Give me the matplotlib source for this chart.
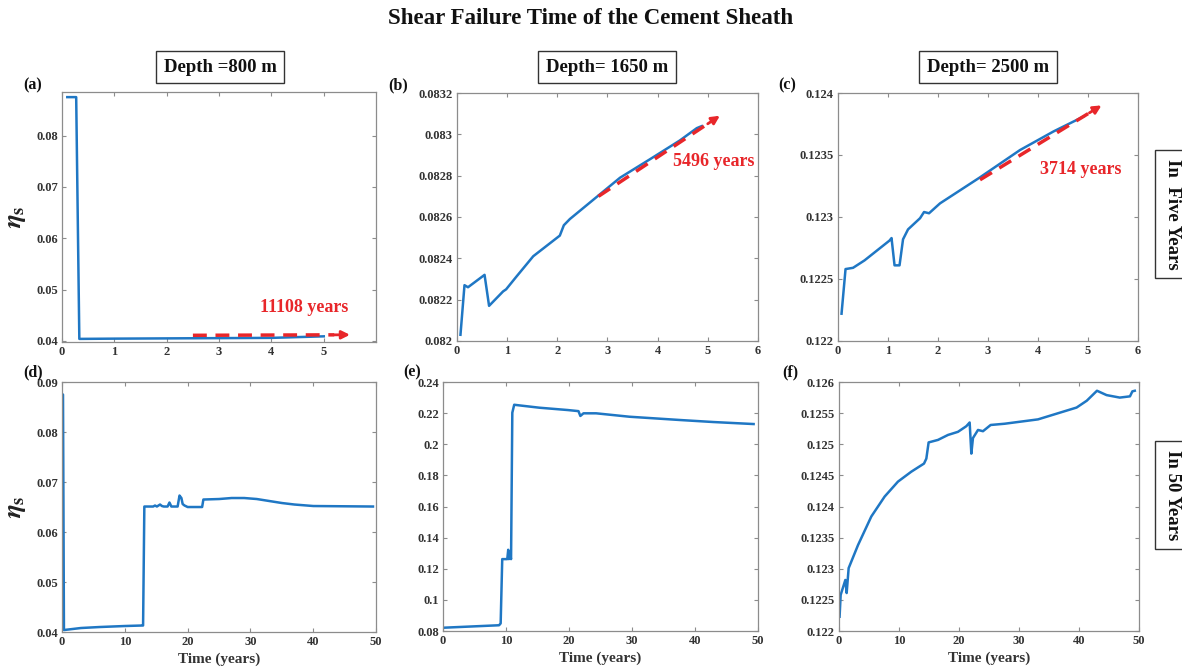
import matplotlib
matplotlib.use("Agg")
import matplotlib.pyplot as plt

# ---------------- data ----------------
a_t = [0.1, 0.27, 0.33, 1.0, 2.0, 3.0, 4.0, 5.0]
a_eta = [0.0875, 0.0875, 0.0404, 0.04045, 0.0405, 0.04055, 0.0406, 0.0409]

b_t = [0.07, 0.15, 0.22, 0.55, 0.64, 0.92, 0.98, 1.18, 1.52, 2.05, 2.13, 2.25,
       2.85, 3.25, 3.85, 4.44, 4.78, 4.88]
b_eta = [0.08203, 0.08227, 0.08226, 0.08232, 0.08217, 0.08224, 0.08225, 0.08231,
         0.08241, 0.08251, 0.08256, 0.08259, 0.08271, 0.08279, 0.08288, 0.08297,
         0.08303, 0.08304]

c_t = [0.07, 0.15, 0.3, 0.53, 1.03, 1.07, 1.13, 1.23, 1.3, 1.4, 1.64, 1.72, 1.82,
       2.04, 2.84, 3.64, 4.31, 4.91]
c_eta = [0.12222, 0.12258, 0.12259, 0.12265, 0.12281, 0.12283, 0.12261, 0.12261,
         0.12282, 0.1229, 0.12299, 0.12304, 0.12303, 0.12311, 0.12332, 0.12354,
         0.12369, 0.12381]

d_t = [0.05, 0.15, 0.3, 1.0, 3.0, 6.0, 10.0, 12.7, 12.9, 13.1, 14.5, 14.8, 15.1,
       15.6, 15.9, 16.2, 16.8, 17.1, 17.4, 18.4, 18.7, 19.0, 19.2, 19.5, 20.0,
       22.3, 22.5, 25.0, 27.0, 29.0, 31.0, 33.0, 35.0, 37.0, 40.0, 49.5]
d_eta = [0.0875, 0.0875, 0.0404, 0.0405, 0.0408, 0.0410, 0.0412, 0.0413, 0.0413,
         0.0651, 0.0651, 0.0653, 0.0651, 0.0655, 0.0652, 0.0651, 0.0651, 0.0659,
         0.0651, 0.0651, 0.0673, 0.0668, 0.0656, 0.0653, 0.065, 0.065, 0.0665,
         0.0666, 0.0668, 0.0668, 0.0666, 0.0662, 0.0658, 0.0655, 0.0652, 0.0651]

e_t = [0.0, 8.9, 9.15, 9.4, 10.2, 10.35, 10.45, 10.6, 10.8, 11.0, 11.3, 12.1, 15.3,
       19.8, 21.5, 21.8, 22.3, 24.3, 29.6, 37.6, 42.9, 49.3]
e_eta = [0.0821, 0.0837, 0.0849, 0.1262, 0.1262, 0.1322, 0.1262, 0.1300, 0.1262,
         0.2203, 0.2254, 0.225, 0.2235, 0.222, 0.2213, 0.2182, 0.2199, 0.2199,
         0.2177, 0.2156, 0.2143, 0.213]

f_t = [0.1, 0.28, 1.06, 1.28, 1.61, 3.17, 5.39, 7.61, 9.83, 12.06, 14.17, 14.56,
       14.94, 16.5, 18.17, 19.83, 21.22, 21.78, 22.06, 22.33, 23.17, 24.0, 25.28,
       27.61, 33.17, 39.6, 41.3, 43.0, 44.6, 46.8, 48.5, 48.9, 49.3]
f_eta = [0.12223, 0.12258, 0.12282, 0.12261, 0.12301, 0.12338, 0.12384, 0.12416,
         0.1244, 0.12456, 0.12469, 0.12477, 0.12503, 0.12507, 0.12515, 0.1252,
         0.12529, 0.12535, 0.12485, 0.1251, 0.12523, 0.12521, 0.12531, 0.12533,
         0.1254, 0.12559, 0.1257, 0.12586, 0.12579, 0.12575, 0.12577, 0.12585,
         0.12586]

# extrapolation arrows (start, end) and labels
arrow_a = ([2.5, 5.5], [0.0411, 0.0412])
arrow_b = ([2.82, 5.24], [0.0827, 0.08309])
arrow_c = ([2.84, 5.27], [0.1233, 0.1239])
label_a = "11108 years"
label_b = "5496 years"
label_c = "3714 years"

depth_titles = ["Depth =800 m", "Depth= 1650 m", "Depth= 2500 m"]
row_titles = ["In  Five Years", "In 50 Years"]
panel_letters = ["(a)", "(b)", "(c)", "(d)", "(e)", "(f)"]

# ---------------- styling ----------------
plt.rcParams['font.family'] = ['Liberation Serif', 'DejaVu Serif']
plt.rcParams['mathtext.fontset'] = 'stix'
BLUE = '#1f77c4'
RED = '#e8262a'
GRAY = '#8c8c8c'
TXT = '#333333'

fig = plt.figure(figsize=(11.82, 6.72), dpi=100)

positions = [
    [0.0525, 0.4911, 0.2657, 0.372],
    [0.3866, 0.4926, 0.2547, 0.369],
    [0.7090, 0.4926, 0.2538, 0.369],
    [0.0525, 0.0595, 0.2657, 0.372],
    [0.3748, 0.0610, 0.2665, 0.3705],
    [0.7098, 0.0610, 0.2538, 0.3705],
]

datasets = [(a_t, a_eta), (b_t, b_eta), (c_t, c_eta),
            (d_t, d_eta), (e_t, e_eta), (f_t, f_eta)]
xlims = [(0, 6), (0, 6), (0, 6), (0, 50), (0, 50), (0, 50)]
ylims = [(0.0398, 0.0885), (0.082, 0.0832), (0.122, 0.124),
         (0.04, 0.09), (0.08, 0.24), (0.122, 0.126)]
xticks = [[0, 1, 2, 3, 4, 5], [0, 1, 2, 3, 4, 5, 6], [0, 1, 2, 3, 4, 5, 6],
          [0, 10, 20, 30, 40, 50], [0, 10, 20, 30, 40, 50], [0, 10, 20, 30, 40, 50]]
yticks = [[0.04, 0.05, 0.06, 0.07, 0.08],
          [0.082, 0.0822, 0.0824, 0.0826, 0.0828, 0.083, 0.0832],
          [0.122, 0.1225, 0.123, 0.1235, 0.124],
          [0.04, 0.05, 0.06, 0.07, 0.08, 0.09],
          [0.08, 0.1, 0.12, 0.14, 0.16, 0.18, 0.2, 0.22, 0.24],
          [0.122, 0.1225, 0.123, 0.1235, 0.124, 0.1245, 0.125, 0.1255, 0.126]]

def fmt(v):
    return ('%.4f' % v).rstrip('0').rstrip('.')

axes = []
for i, pos in enumerate(positions):
    ax = fig.add_axes(pos)
    t, y = datasets[i]
    ax.plot(t, y, color=BLUE, lw=1.8)
    ax.set_xlim(*xlims[i])
    ax.set_ylim(*ylims[i])
    ax.set_xticks(xticks[i])
    ax.set_yticks(yticks[i])
    ax.set_xticklabels([fmt(v) for v in xticks[i]])
    ax.set_yticklabels([fmt(v) for v in yticks[i]])
    ax.tick_params(direction='in', top=True, right=True, length=3, width=0.8,
                   color=GRAY, labelsize=9, labelcolor=TXT, pad=3)
    for lab in ax.get_xticklabels() + ax.get_yticklabels():
        lab.set_fontweight('bold')
    for sp in ax.spines.values():
        sp.set_color(GRAY)
        sp.set_linewidth(0.9)
    axes.append(ax)

# arrows
for ax, (ax_x, ax_y), lab, txy in [
        (axes[0], arrow_a, label_a, (3.78, 0.0466)),
        (axes[1], arrow_b, label_b, (4.3, 0.08287)),
        (axes[2], arrow_c, label_c, (4.04, 0.12338))]:
    x0, x1 = ax_x
    y0, y1 = ax_y
    fx = x0 + 0.9 * (x1 - x0)
    fy = y0 + 0.9 * (y1 - y0)
    ax.plot([x0, fx], [y0, fy], color=RED, lw=2.5, ls=(0, (4, 2.5)))
    ax.annotate('', xy=(x1, y1), xytext=(fx, fy),
                arrowprops=dict(arrowstyle='-|>', color=RED, lw=2.0,
                                mutation_scale=12, shrinkA=0, shrinkB=0))
    ax.text(txy[0], txy[1], lab, color=RED, fontsize=13, fontweight='bold',
            ha='left', va='center')

# y labels
for ax in (axes[0], axes[3]):
    ax.set_ylabel(r'$\mathbfit{\eta}_{\mathbf{s}}$', fontsize=19, color='#222222',
                  labelpad=6)
# x labels
for ax in axes[3:]:
    ax.set_xlabel('Time (years)', fontsize=11, fontweight='bold', color=TXT,
                  labelpad=3)

# panel letters
letter_pos = [(33, 85), (398, 85), (787, 85), (33, 372), (412, 372), (790, 372)]
for lab, (px, py) in zip(panel_letters, letter_pos):
    fig.text(px / 1182, 1 - py / 672, lab, fontsize=11.5, fontweight='bold',
             ha='center', va='center', color='#111111')

# column headers
header_x = [220, 607, 988]
for h, hx in zip(depth_titles, header_x):
    fig.text(hx / 1182, 1 - 67 / 672, h, fontsize=13.5, fontweight='bold',
             ha='center', va='center', color='#111111',
             bbox=dict(boxstyle='square,pad=0.4', fc='white', ec='#333333', lw=1))

# row headers
for r, ry in zip(row_titles, [214, 495]):
    fig.text(1172 / 1182, 1 - ry / 672, r, fontsize=13.5, fontweight='bold',
             rotation=-90, ha='center', va='center', color='#111111',
             bbox=dict(boxstyle='square,pad=0.45', fc='white', ec='#333333', lw=1))

# main title
fig.text(0.5, 1 - 18 / 672, 'Shear Failure Time of the Cement Sheath',
         fontsize=16.5, fontweight='bold', ha='center', va='center', color='#111111')

fig.savefig('out.png', dpi=100)
